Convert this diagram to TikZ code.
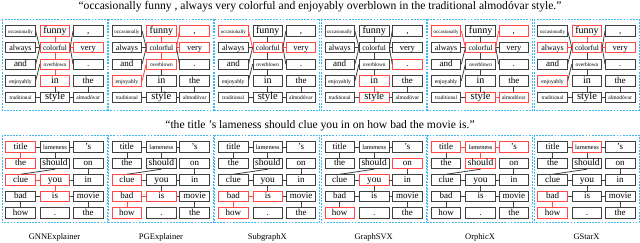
\documentclass[tikz,border=0pt]{standalone}
\usepackage{fontspec}
\setmainfont{Liberation Serif}
\definecolor{gline}{HTML}{404040}
\definecolor{rline}{HTML}{FF4848}
\definecolor{pblue}{HTML}{3DB8EC}
\tikzset{
  wbox/.style={rectangle,minimum width=29.5pt,minimum height=10.5pt,inner sep=0pt,line width=0.9pt,text=black,text height=0.68em,text depth=0.2em},
  edge/.style={line width=0.8pt},
  panel/.style={draw=pblue,line width=0.9pt,dash pattern=on 1.8pt off 1.3pt},
  lab/.style={font=\fontsize{8.5}{9}\selectfont,inner sep=0pt},
  ttl/.style={font=\fontsize{11.6}{12}\selectfont,inner sep=0pt}
}
\makeatletter
\newcommand\chk[1]{\edef\chk@tmp{\noexpand\in@{,#1,}{,\reds,}}\chk@tmp}
\newcommand\wn[5]{%
  \chk{#1}\ifin@\def\bc{rline}\else\def\bc{gline}\fi
  \node[wbox,draw=\bc,font=\fontsize{#4}{#4}\selectfont] (\pnl-#1) at (\cx+#2,#3) {#5};}
\newcommand\ce[4]{%
  \chk{#1}\ifin@\chk{#3}\ifin@\def\ec{rline}\else\def\ec{gline}\fi\else\def\ec{gline}\fi
  \draw[edge,draw=\ec] (\pnl-#1.#2) -- (\pnl-#3.#4);}
\makeatother
\def\cL{-34}\def\cM{0.5}\def\cR{33.7}
\newcommand\toppanel[2]{%
  \def\reds{#2}\def\pnl{T#1}\pgfmathsetmacro\cx{54.5+106.4*#1}
  \draw[panel] (\cx-52.5,19) rectangle (\cx+52.5,110);
  \wn{occ}{\cL}{31}{5}{occasionally}
  \wn{funny}{\cM}{31}{10}{funny}
  \wn{comma}{\cR}{31}{9}{,}
  \wn{always}{\cL}{47.6}{8}{always}
  \wn{colorful}{\cM}{47.6}{7.5}{colorful}
  \wn{very}{\cR}{47.6}{8.5}{very}
  \wn{and}{\cL}{64.2}{9}{and}
  \wn{overblown}{\cM}{64.2}{5.3}{overblown}
  \wn{dot}{\cR}{64.2}{9}{.}
  \wn{enjoyably}{\cL}{80.8}{5.7}{enjoyably}
  \wn{in}{\cM}{80.8}{10}{in}
  \wn{the}{\cR}{80.8}{9}{the}
  \wn{traditional}{\cL}{97.4}{5.3}{traditional}
  \wn{style}{\cM}{97.4}{10.5}{style}
  \wn{almodovar}{\cR}{97.4}{5.5}{almodóvar}
  \ce{occ}{east}{colorful}{west}
  \ce{always}{east}{colorful}{west}
  \ce{and}{east}{colorful}{west}
  \ce{comma}{west}{colorful}{east}
  \ce{very}{west}{colorful}{east}
  \ce{dot}{west}{colorful}{east}
  \ce{funny}{south}{colorful}{north}
  \ce{colorful}{south}{overblown}{north}
  \ce{overblown}{south}{in}{north}
  \ce{enjoyably}{east}{overblown}{west}
  \ce{in}{south}{style}{north}
  \ce{traditional}{east}{style}{west}
  \ce{style}{east}{almodovar}{west}
  \ce{the}{south}{almodovar}{north}
}
\newcommand\botpanel[3]{%
  \def\reds{#2}\def\pnl{B#1}\pgfmathsetmacro\cx{54.5+106.4*#1}
  \draw[panel] (\cx-52.5,135) rectangle (\cx+52.5,222.5);
  \wn{title}{\cL}{147}{9}{title}
  \wn{lameness}{\cM}{147}{6.5}{lameness}
  \wn{s}{\cR}{147}{9}{’s}
  \wn{the}{\cL}{163.5}{9}{the}
  \wn{should}{\cM}{163.5}{9.5}{should}
  \wn{on}{\cR}{163.5}{9}{on}
  \wn{clue}{\cL}{180}{9}{clue}
  \wn{you}{\cM}{180}{9.5}{you}
  \wn{in}{\cR}{180}{9}{in}
  \wn{bad}{\cL}{196.5}{9}{bad}
  \wn{is}{\cM}{196.5}{9}{is}
  \wn{movie}{\cR}{196.5}{9}{movie}
  \wn{how}{\cL}{213}{9}{how}
  \wn{dot}{\cM}{213}{9}{.}
  \wn{thetwo}{\cR}{213}{9}{the}
  \ce{title}{east}{lameness}{west}
  \ce{lameness}{east}{s}{west}
  \ce{title}{south}{the}{north}
  \ce{lameness}{south}{should}{north}
  \ce{should}{south}{clue}{north}
  \ce{clue}{east}{you}{west}
  \ce{you}{east}{in}{west}
  \ce{on}{south}{in}{north}
  \ce{you}{south}{is}{north}
  \ce{bad}{east}{is}{west}
  \ce{is}{east}{movie}{west}
  \ce{bad}{south}{how}{north}
  \ce{movie}{south}{thetwo}{north}
  \node[lab] (lab#1) at (\cx,237) {#3};
}
\begin{document}
\begin{tikzpicture}[x=1pt,y=-1pt]
\useasboundingbox (0,0) rectangle (640,242);
\node[ttl] (title1) at (320,7) {“occasionally funny , always very colorful and enjoyably overblown in the traditional almodóvar style.”};
\node[ttl] (title2) at (320,126) {“the title ’s lameness should clue you in on how bad the movie is.”};
\toppanel{0}{funny,colorful,very,overblown,in}
\toppanel{1}{funny,comma,colorful,very,overblown,enjoyably}
\toppanel{2}{occ,colorful,very}
\toppanel{3}{dot,in,style}
\toppanel{4}{occ,comma,colorful,style,almodovar}
\toppanel{5}{funny,always,colorful,very,enjoyably}
\botpanel{0}{title,the,clue,you,is}{GNNExplainer}
\botpanel{1}{clue,bad,is,how}{PGExplainer}
\botpanel{2}{bad,is,how}{SubgraphX}
\botpanel{3}{on,you,how}{GraphSVX}
\botpanel{4}{title,lameness,s,should}{OrphicX}
\botpanel{5}{lameness,bad,how}{GStarX}
\end{tikzpicture}
\end{document}
